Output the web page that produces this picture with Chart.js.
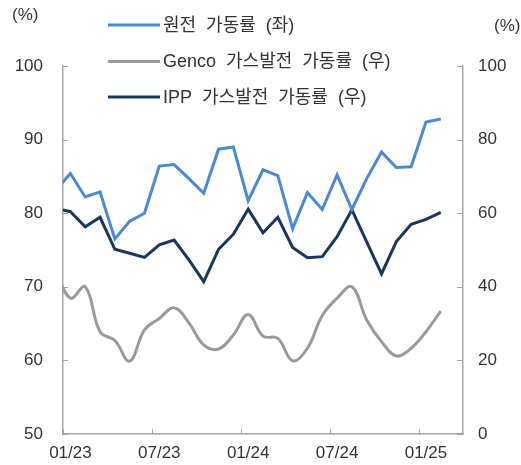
<!DOCTYPE html>
<html>
<head>
<meta charset="utf-8">
<script src="https://cdn.jsdelivr.net/npm/chart.js@4"></script>
<style>
html,body{margin:0;padding:0;background:#fff;}
#wrap{width:521px;height:465px;}
</style>
</head>
<body>
<div id="wrap"><canvas id="c" width="521" height="465"></canvas></div>
<script>
// Months (first entry is the lead-in month, clipped at the left axis)
const months = ['12/22',
  '01/23','02/23','03/23','04/23','05/23','06/23','07/23','08/23','09/23','10/23','11/23','12/23',
  '01/24','02/24','03/24','04/24','05/24','06/24','07/24','08/24','09/24','10/24','11/24','12/24',
  '01/25','02/25'];
const tickLabels = ['01/23','07/23','01/24','07/24','01/25'];

const nuclear = [83.1,
  85.4,82.2,82.9,76.5,78.9,80.0,86.4,86.6,84.7,82.7,88.7,89.0,
  81.7,85.9,85.1,77.9,82.8,80.5,85.2,80.5,84.7,88.3,86.2,86.3,
  92.4,92.8];
const genco = [44.5,
  36.9,40.0,27.8,25.4,19.8,28.3,31.4,34.3,30.2,24.2,23.1,26.9,
  32.5,26.6,26.0,19.9,23.3,32.2,36.9,40.0,31.0,25.1,21.2,23.3,
  27.8,33.4];
const ipp = [61.3,
  60.4,56.3,58.9,50.2,49.1,48.0,51.4,52.7,47.3,41.4,50.2,54.3,
  61.1,54.7,58.9,50.7,47.9,48.2,53.6,60.9,52.2,43.5,52.3,57.0,
  58.3,60.2];

const seriesNames = ['원전 가동률 (좌)', 'Genco 가스발전 가동률 (우)', 'IPP 가스발전 가동률 (우)'];
const colors = ['#4A89D6', '#9A9A9A', '#1B365D'];
const axisColor = '#A6A6A6';
const textColor = '#333333';
const FONT = "'Liberation Sans', 'Noto Sans CJK KR', Arial, sans-serif";

// month index -> x value (01/23 = 0)
const toPts = arr => arr.map((v, i) => ({x: i - 1, y: v}));

const extras = {
  id: 'extras',
  afterDraw(chart) {
    const ctx = chart.ctx;
    const xs = chart.scales.x, yl = chart.scales.y, yr = chart.scales.y2;
    const ca = chart.chartArea;
    ctx.save();
    ctx.strokeStyle = axisColor;
    ctx.lineWidth = 1;
    ctx.beginPath();
    xs.ticks.forEach(t => {
      const px = Math.round(xs.getPixelForValue(t.value)) + 0.5;
      ctx.moveTo(px, ca.bottom); ctx.lineTo(px, ca.bottom - 5);
    });
    yl.ticks.forEach(t => {
      const py = Math.round(yl.getPixelForValue(t.value)) + 0.5;
      ctx.moveTo(ca.left, py); ctx.lineTo(ca.left + 5, py);
    });
    yr.ticks.forEach(t => {
      const py = Math.round(yr.getPixelForValue(t.value)) + 0.5;
      ctx.moveTo(ca.right, py); ctx.lineTo(ca.right - 6, py);
    });
    ctx.stroke();

    // unit labels
    ctx.fillStyle = textColor;
    ctx.font = '17px ' + FONT;
    ctx.textBaseline = 'middle';
    ctx.textAlign = 'left';
    ctx.fillText('(%)', 12, 15);
    ctx.fillText('(%)', 494, 26);

    // legend
    const rows = [25, 61.5, 97];
    if ('wordSpacing' in ctx) ctx.wordSpacing = '5px';
    chart.data.datasets.forEach((ds, i) => {
      const y = rows[i];
      ctx.strokeStyle = ds.borderColor;
      ctx.lineWidth = 3;
      ctx.beginPath();
      ctx.moveTo(108, y); ctx.lineTo(160, y);
      ctx.stroke();
      ctx.fillStyle = textColor;
      ctx.font = '18px ' + FONT;
      ctx.fillText(ds.label, 163, y + 1);
    });
    ctx.restore();
  }
};

new Chart(document.getElementById('c'), {
  type: 'line',
  data: {
    datasets: [
      {label: seriesNames[0], data: toPts(nuclear), yAxisID: 'y', borderColor: colors[0], backgroundColor: colors[0], borderWidth: 3, pointRadius: 0, tension: 0},
      {label: seriesNames[1], data: toPts(genco), yAxisID: 'y2', borderColor: colors[1], backgroundColor: colors[1], borderWidth: 3, pointRadius: 0, tension: 0.4, cubicInterpolationMode: 'default'},
      {label: seriesNames[2], data: toPts(ipp), yAxisID: 'y2', borderColor: colors[2], backgroundColor: colors[2], borderWidth: 3, pointRadius: 0, tension: 0}
    ]
  },
  options: {
    responsive: false,
    devicePixelRatio: 1,
    animation: false,
    layout: {padding: {top: 66, left: 0, right: 0, bottom: 0}},
    plugins: {legend: {display: false}, tooltip: {enabled: false}},
    scales: {
      x: {
        type: 'linear',
        min: -0.5,
        max: 26.5,
        afterBuildTicks: s => {
          s.ticks = tickLabels.map(l => ({value: months.indexOf(l) - 1.5}));
        },
        afterFit: s => { s.height = 31; },
        grid: {display: true, drawOnChartArea: false, drawTicks: false},
        border: {display: true, color: axisColor, width: 1.5},
        ticks: {
          color: textColor,
          font: {family: FONT, size: 17},
          padding: 9,
          labelOffset: 7.4,
          maxRotation: 0,
          autoSkip: false,
          callback: v => months[Math.round(v + 1.5)]
        }
      },
      y: {
        position: 'left',
        min: 50, max: 100,
        afterFit: s => { s.width = 63; },
        grid: {display: true, drawOnChartArea: false, drawTicks: false},
        border: {display: true, color: axisColor, width: 1.5},
        ticks: {stepSize: 10, color: textColor, font: {family: FONT, size: 17}, padding: 20}
      },
      y2: {
        position: 'right',
        min: 0, max: 100,
        afterFit: s => { s.width = 58; },
        grid: {display: true, drawOnChartArea: false, drawTicks: false},
        border: {display: true, color: axisColor, width: 1.5},
        ticks: {stepSize: 20, color: textColor, font: {family: FONT, size: 17}, padding: 15}
      }
    }
  },
  plugins: [extras]
});
</script>
</body>
</html>
